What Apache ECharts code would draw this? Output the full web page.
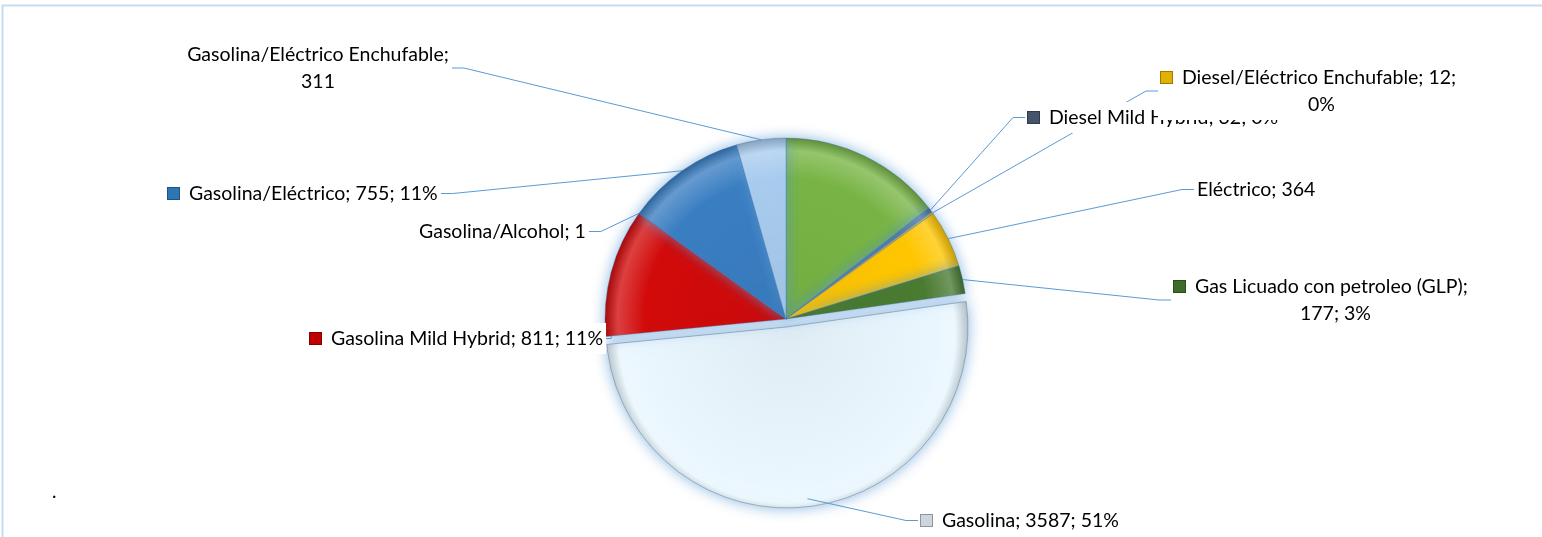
<!DOCTYPE html>
<html>
<head>
<meta charset="utf-8">
<script src="https://cdn.jsdelivr.net/npm/echarts@6/dist/echarts.min.js"></script>
<style>
html,body{margin:0;padding:0;background:#fff;}
#chart{width:1542px;height:537px;}
</style>
</head>
<body>
<div id="chart"></div>
<script>
// ---- data ----
const categories = ['Diesel','Diesel Mild Hybrid','Diesel/Eléctrico Enchufable','Eléctrico','Gas Licuado con petroleo (GLP)','Gasolina','Gasolina Mild Hybrid','Gasolina/Alcohol','Gasolina/Eléctrico','Gasolina/Eléctrico Enchufable'];
const values = [1025, 32, 12, 364, 177, 3587, 811, 1, 755, 311];
const showLabel = [false, true, true, true, true, true, true, true, true, true];
const showPercent = [false, true, true, false, true, true, true, false, true, false];
const showMarker = [false, true, true, false, true, true, true, false, true, false];
const exploded = 'Gasolina';

// ---- style ----
const sliceColors = ['#78B445','#4F6F9E','#E8B800','#FFC600','#4A7B30','#E9F6FE','#D20A0A','#4BACC6','#3A7EC2','#A9CCEE'];
const markerColors = ['#78B445','#44546A','#E2B000','#FFC600','#3D6B2A','#CDD5DD','#C00000','#4BACC6','#2E75B6','#A9CCEE'];
const wrapAfter = [0,0,2,0,1,0,0,0,0,1];
const line2Pad = [0,0,147,0,126,0,0,0,0,0];
const labelPos = [null,[1025,102],[1158,62],[1194,174],[1171,271],[918,505],[307,323],[416,216],[165,178],[318,39]];
const labelAlign = ['left','left','left','left','left','left','left','left','left','center'];
const CX = 786, CY = 319, R = 181;
const FONT = 19.5, LH = 27;
const TRANSPARENT = 'rgba(0,0,0,0)';

function mix(hex, target, t){
  const h = hex.replace('#','');
  const r = parseInt(h.substr(0,2),16), g = parseInt(h.substr(2,2),16), b = parseInt(h.substr(4,2),16);
  const f = v => Math.round(v + (target - v) * t);
  return 'rgb(' + f(r) + ',' + f(g) + ',' + f(b) + ')';
}
function grad(c, dy){
  return {type:'radial', x:CX, y:CY + (dy||0), r:R, global:true, colorStops:[
    {offset:0, color:mix(c,0,0.04)},
    {offset:0.78, color:c},
    {offset:0.93, color:mix(c,255,0.22)},
    {offset:1, color:mix(c,0,0.2)}
  ]};
}

const total = values.reduce((a,b)=>a+b,0);
const rich = {
  t:{fontSize:FONT, fontFamily:'Lato', color:'#000', lineHeight:LH}
};
categories.forEach((c,i)=>{
  rich['m'+i] = {width:11, height:11, backgroundColor:markerColors[i], borderColor:mix(markerColors[i],0,0.3), borderWidth:1};
  rich['p'+i] = {width:line2Pad[i], lineHeight:LH};
});

function labelText(i){
  const segs = [categories[i], String(values[i])];
  if (showPercent[i]) segs.push(Math.round(values[i]/total*100) + '%');
  let first, second = null;
  if (wrapAfter[i] > 0) {
    first = segs.slice(0, wrapAfter[i]).join('; ') + ';';
    second = segs.slice(wrapAfter[i]).join('; ');
  } else {
    first = segs.join('; ');
  }
  let s = (showMarker[i] ? '{m'+i+'|}{t|  }' : '') + '{t|' + first + '}';
  if (second !== null) s += '\n' + (line2Pad[i] ? '{p'+i+'| }' : '') + '{t|' + second + '}';
  return s;
}

const baseStyle = {borderColor:'rgba(60,110,170,0.35)', borderWidth:1, shadowBlur:14, shadowColor:'rgba(91,155,213,0.7)'};
const hiddenStyle = {color:TRANSPARENT, borderWidth:0, shadowBlur:0, shadowColor:TRANSPARENT};

// main pie: every slice except the exploded one (which is drawn by the second series), plus all labels
const dataMain = categories.map((name,i)=>({
  name: name,
  value: values[i],
  itemStyle: name === exploded ? hiddenStyle : Object.assign({color: grad(sliceColors[i])}, baseStyle),
  label: {show: showLabel[i], align: labelAlign[i]},
  labelLine: {show: showLabel[i]}
}));
// exploded pie: only the exploded slice visible, pulled out by the library's selectedOffset
const dataExploded = categories.map((name,i)=>({
  name: name,
  value: values[i],
  selected: name === exploded,
  itemStyle: name === exploded ? Object.assign({color: grad(sliceColors[i], 8)}, baseStyle, {borderColor:'rgba(110,130,150,0.55)'}) : hiddenStyle
}));

const chart = echarts.init(document.getElementById('chart'), null, {renderer:'canvas'});
chart.setOption({
  animation:false,
  backgroundColor:'#fff',
  graphic:[
    {type:'rect', shape:{x:2.5, y:5.5, width:1700, height:700}, style:{fill:'none', stroke:'#C6DBEF', lineWidth:2}, silent:true},
    {type:'text', left:52, top:482, style:{text:'.', font:'19px Lato', fill:'#000'}, silent:true}
  ],
  series:[{
    type:'pie',
    z:2,
    center:[CX, CY],
    radius:R,
    startAngle:90,
    clockwise:true,
    selectedMode:false,
    avoidLabelOverlap:false,
    emphasis:{disabled:true},
    label:{
      show:true,
      position:'outside',
      formatter: p => labelText(p.dataIndex),
      rich: rich,
      backgroundColor:'#fff',
      padding:[2,3],
      lineHeight:LH
    },
    labelLine:{show:true, length:10, length2:12, smooth:false, lineStyle:{color:'#5B9BD5', width:1}},
    labelLayout: function(p){
      const i = p.dataIndex;
      if (!labelPos[i]) return {};
      return {x: labelPos[i][0], y: labelPos[i][1], align: labelAlign[i], verticalAlign:'top'};
    },
    data: dataMain
  },{
    type:'pie',
    z:1,
    silent:true,
    center:[CX, CY],
    radius:R,
    startAngle:90,
    clockwise:true,
    selectedMode:'single',
    selectedOffset:8,
    emphasis:{disabled:true},
    label:{show:false},
    labelLine:{show:false},
    data: dataExploded
  }]
});
</script>
</body>
</html>
